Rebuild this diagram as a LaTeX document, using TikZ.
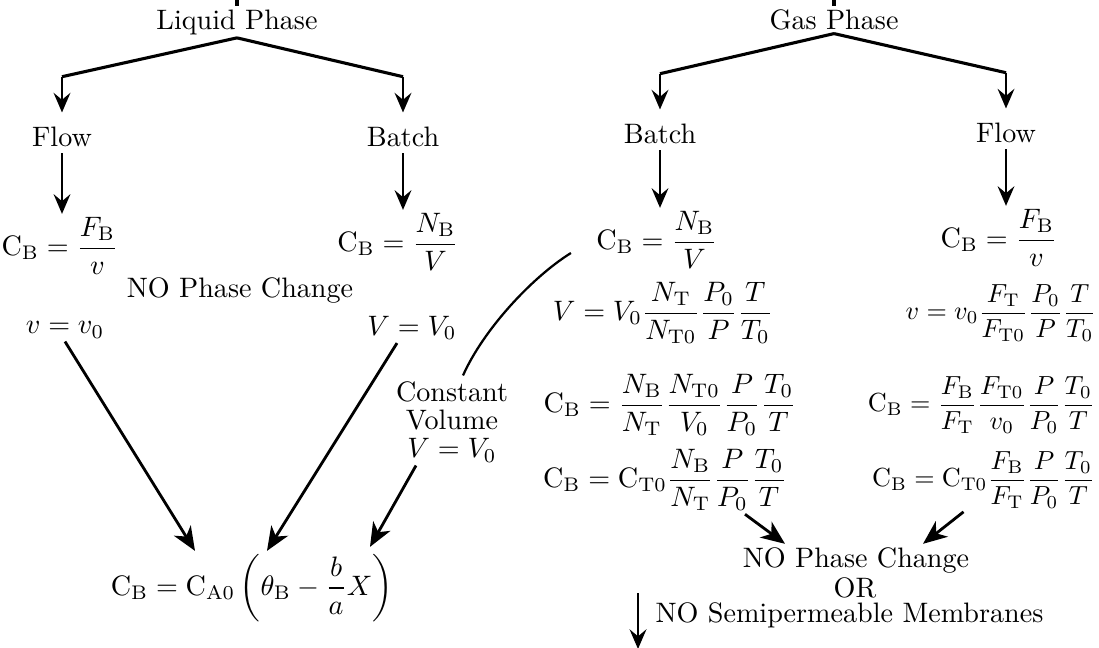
\documentclass[tikz,border=0pt]{standalone}
\usepackage{amsmath}
\usepackage{tikz}
\usetikzlibrary{calc,arrows.meta,positioning}
\newcommand{\cB}{\mathrm{C}_{\mathrm{B}}}

\begin{document}
\begin{tikzpicture}[x=0.0125cm, y=-0.0125cm,
    txt/.style={inner sep=1pt, align=center},
    tight/.style={txt, scale=0.93},
    branch/.style={line width=1.1pt},
    down/.style={line width=0.6pt, -{Stealth[length=7pt,width=6pt,inset=2.5pt]}},
    slant/.style={line width=1pt, -{Stealth[length=8.5pt,width=7pt,inset=2.5pt]}}]
  \useasboundingbox (0,0) rectangle (1099,648);

  % liquid phase
  \node (liq) [txt] at (237,22) {Liquid Phase};
  \coordinate (liqin) at (237,-3);
  \node (flowL) [txt] at (62,137) {Flow};
  \node (batchL) [txt] at (403,137) {Batch};
  \node (cbFL) [txt] at (60,246) {$\cB = \dfrac{F_{\mathrm{B}}}{v}$};
  \node (cbNL) [txt] at (398,242) {$\cB = \dfrac{N_{\mathrm{B}}}{V}$};
  \node (nopcL) [txt] at (240,290) {NO Phase Change};
  \node (vvL) [txt] at (65,330) {$v = v_0$};
  \node (VVL) [txt] at (412,328) {$V = V_0$};
  \node (cv) [txt] at (452,422) {Constant\\[-2pt] Volume\\[-2pt] $V = V_0$};
  \node (cbX) [txt] at (252,588) {$\cB = \mathrm{C}_{\mathrm{A0}}\left(\theta_{\mathrm{B}} - \dfrac{b}{a}X\right)$};

  \draw[branch] (liqin) -- (liq.north);
  \draw[branch] (liq.south) -- ($(flowL.north)+(0,-47)$);
  \draw[down, shorten >=4pt] ($(flowL.north)+(0,-47)$) -- (flowL.north);
  \draw[branch] (liq.south) -- ($(batchL.north)+(0,-47)$);
  \draw[down, shorten >=4pt] ($(batchL.north)+(0,-47)$) -- (batchL.north);
  \draw[down, shorten <=1pt] (flowL.south) -- (flowL.south |- cbFL.north);
  \draw[down, shorten <=1pt] (batchL.south) -- (batchL.south |- cbNL.north);
  \draw[slant] (vvL.south) -- ($(cbX.north)+(-57,0)$);
  \draw[slant] ($(VVL.south)+(-15,0)$) -- ($(cbX.north)+(15,0)$);
  \draw[slant] ($(cv.south)+(-36,0)$) -- ($(cbX.north)+(118,-4)$);

  % gas phase
  \node (gas) [txt] at (834,20) {Gas Phase};
  \coordinate (gasin) at (834,-3);
  \node (batchR) [txt] at (660,134) {Batch};
  \node (flowR) [txt] at (1006,133) {Flow};
  \node (cbNR) [txt] at (657,240) {$\cB = \dfrac{N_{\mathrm{B}}}{V}$};
  \node (VR) [txt] at (663,313) {$V = V_0\dfrac{N_{\mathrm{T}}}{N_{\mathrm{T0}}}\dfrac{P_0}{P}\dfrac{T}{T_0}$};
  \node (cbR1) [txt] at (670,405) {$\cB = \dfrac{N_{\mathrm{B}}}{N_{\mathrm{T}}}\dfrac{N_{\mathrm{T0}}}{V_0}\dfrac{P}{P_0}\dfrac{T_0}{T}$};
  \node (cbR2) [txt] at (665,480) {$\cB = \mathrm{C}_{\mathrm{T0}}\dfrac{N_{\mathrm{B}}}{N_{\mathrm{T}}}\dfrac{P}{P_0}\dfrac{T_0}{T}$};
  \node (cbFR) [txt] at (999,238) {$\cB = \dfrac{F_{\mathrm{B}}}{v}$};
  \node (vR) [tight] at (1001,313) {$v = v_0\dfrac{F_{\mathrm{T}}}{F_{\mathrm{T0}}}\dfrac{P_0}{P}\dfrac{T}{T_0}$};
  \node (cbR3) [tight, anchor=east] at (1098,405) {$\cB = \dfrac{F_{\mathrm{B}}}{F_{\mathrm{T}}}\dfrac{F_{\mathrm{T0}}}{v_0}\dfrac{P}{P_0}\dfrac{T_0}{T}$};
  \node (cbR4) [tight, anchor=east] at (1098,480) {$\cB = \mathrm{C}_{\mathrm{T0}}\dfrac{F_{\mathrm{B}}}{F_{\mathrm{T}}}\dfrac{P}{P_0}\dfrac{T_0}{T}$};
  \node (nopcR) [txt] at (856,560) {NO Phase Change};
  \node (orR) [txt, inner sep=0pt] at (855,588) {OR};
  \node (nosm) [txt, inner sep=0pt, anchor=west] at (655,615) {NO Semipermeable Membranes};
  \coordinate (memin) at (638,593);
  \coordinate (memout) at (638,649);

  \draw[line width=0.8pt] ($(cv.north)+(11,-3)$) .. controls +(20,-45) and +(-40,25) .. ($(cbNR.west)+(-22,13)$);
  \draw[branch] (gasin) -- (gas.north);
  \draw[branch] (gas.south) -- ($(batchR.north)+(0,-47)$);
  \draw[down, shorten >=4pt] ($(batchR.north)+(0,-47)$) -- (batchR.north);
  \draw[branch] (gas.south) -- ($(flowR.north)+(0,-47)$);
  \draw[down, shorten >=4pt] ($(flowR.north)+(0,-47)$) -- (flowR.north);
  \draw[down, shorten <=1pt] (batchR.south) -- (batchR.south |- cbNR.north);
  \draw[down, shorten <=1pt] (flowR.south) -- (flowR.south |- cbFR.north);
  \draw[slant] ($(cbR2.south)+(80,0)$) -- ($(nopcR.north)+(-71,0)$);
  \draw[slant] ($(cbR4.south)+(-20,0)$) -- ($(nopcR.north)+(67,0)$);
  \draw[down] (memin) -- (memout);
\end{tikzpicture}
\end{document}
